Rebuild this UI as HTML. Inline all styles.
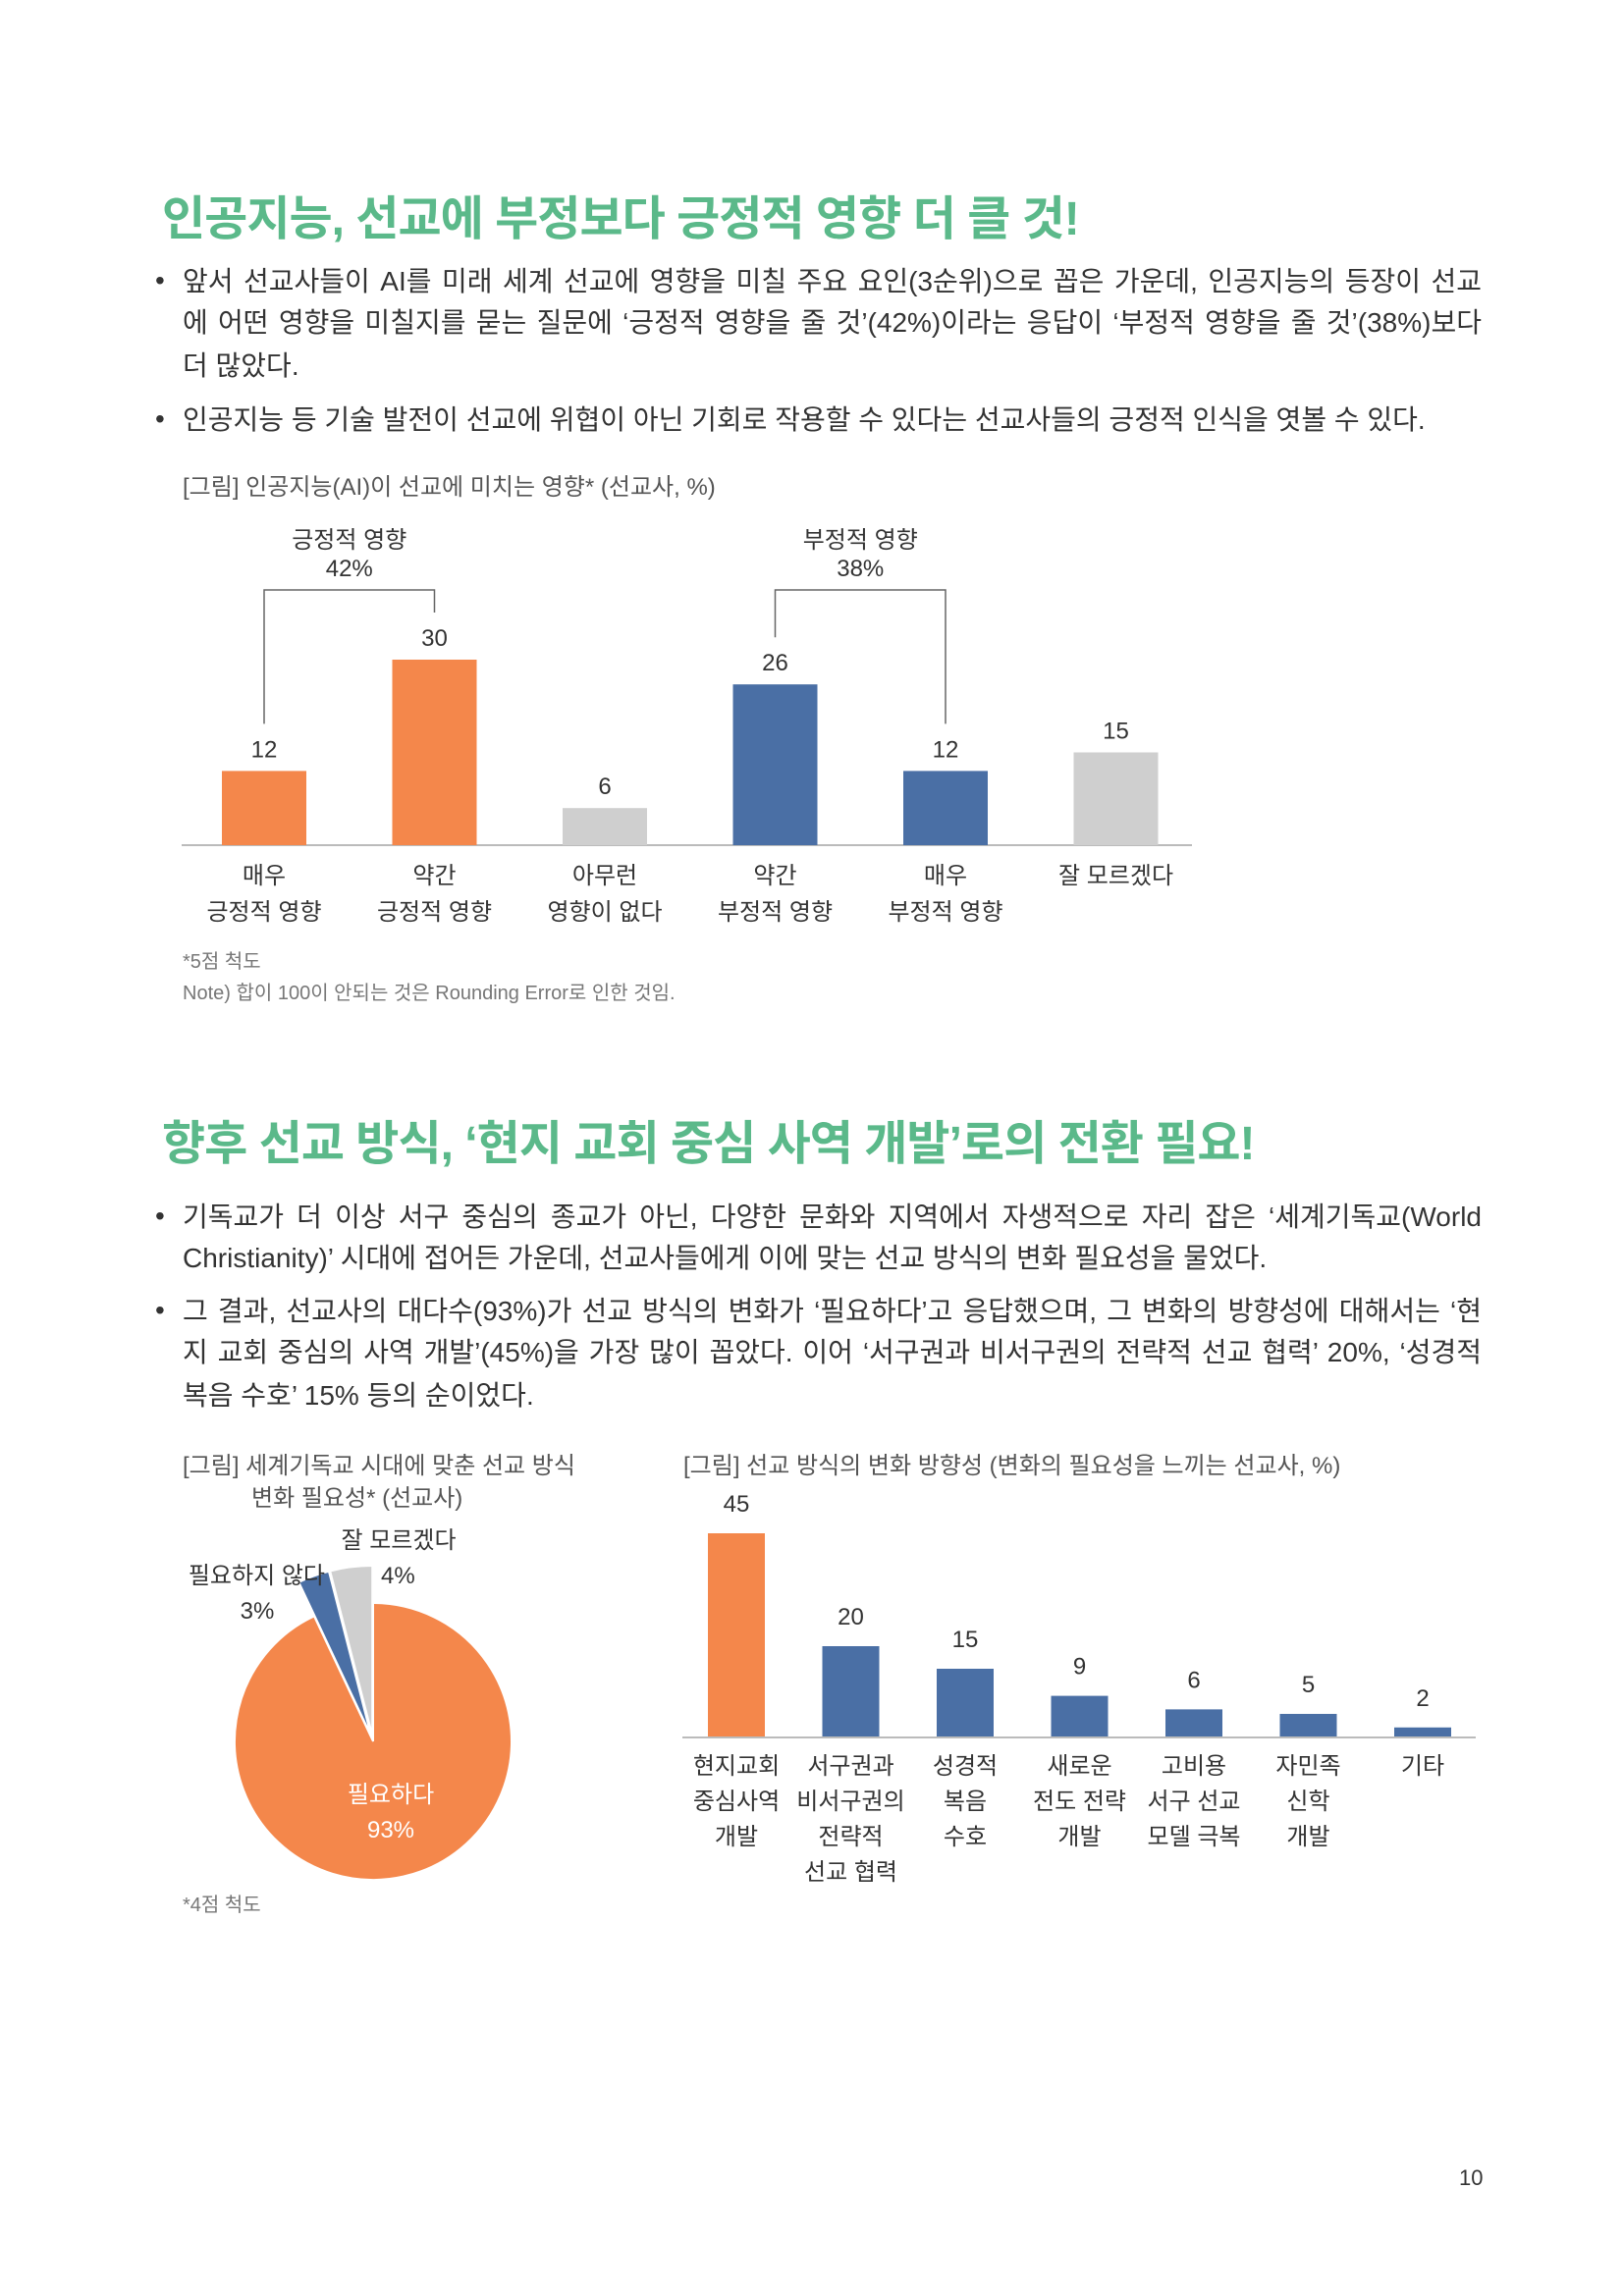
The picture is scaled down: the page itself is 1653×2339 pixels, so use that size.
<!DOCTYPE html>
<html><head><meta charset="utf-8">
<style>
body{margin:0;background:#fff;}
#page{position:relative;width:1653px;height:2339px;overflow:hidden;font-family:"Liberation Sans","Noto Sans CJK KR",sans-serif;color:#333;}
.t{position:absolute;white-space:nowrap;}
.title{font-size:48px;font-weight:bold;color:#5bb98a;left:165px;letter-spacing:-1px;}
.b{font-size:28px;left:186px;width:1323px;text-align:justify;text-align-last:justify;line-height:34px;}
.b.last{text-align-last:left;}
.dot{font-size:28px;left:158px;}
.cap{font-size:24px;color:#555;}
.fn{font-size:20px;color:#777;}
svg{position:absolute;left:0;top:0;}
</style></head><body>
<div id="page">
<div class="t title" style="top:183px">인공지능, 선교에 부정보다 긍정적 영향 더 클 것!</div>
<div class="t dot" style="top:270px">•</div>
<div class="t b" style="top:270px">앞서 선교사들이 AI를 미래 세계 선교에 영향을 미칠 주요 요인(3순위)으로 꼽은 가운데, 인공지능의 등장이 선교</div>
<div class="t b" style="top:312px">에 어떤 영향을 미칠지를 묻는 질문에 ‘긍정적 영향을 줄 것’(42%)이라는 응답이 ‘부정적 영향을 줄 것’(38%)보다</div>
<div class="t b last" style="top:356px">더 많았다.</div>
<div class="t dot" style="top:411px">•</div>
<div class="t b last" style="top:411px">인공지능 등 기술 발전이 선교에 위협이 아닌 기회로 작용할 수 있다는 선교사들의 긍정적 인식을 엿볼 수 있다.</div>
<div class="t cap" style="left:186px;top:476px">[그림] 인공지능(AI)이 선교에 미치는 영향* (선교사, %)</div>
<div class="t fn" style="left:186px;top:963px">*5점 척도</div>
<div class="t fn" style="left:186px;top:995px">Note) 합이 100이 안되는 것은 Rounding Error로 인한 것임.</div>

<div class="t title" style="top:1125px">향후 선교 방식, ‘현지 교회 중심 사역 개발’로의 전환 필요!</div>
<div class="t dot" style="top:1223px">•</div>
<div class="t b" style="top:1223px">기독교가 더 이상 서구 중심의 종교가 아닌, 다양한 문화와 지역에서 자생적으로 자리 잡은 ‘세계기독교(World</div>
<div class="t b last" style="top:1265px">Christianity)’ 시대에 접어든 가운데, 선교사들에게 이에 맞는 선교 방식의 변화 필요성을 물었다.</div>
<div class="t dot" style="top:1319px">•</div>
<div class="t b" style="top:1319px">그 결과, 선교사의 대다수(93%)가 선교 방식의 변화가 ‘필요하다’고 응답했으며, 그 변화의 방향성에 대해서는 ‘현</div>
<div class="t b" style="top:1361px">지 교회 중심의 사역 개발’(45%)을 가장 많이 꼽았다. 이어 ‘서구권과 비서구권의 전략적 선교 협력’ 20%, ‘성경적</div>
<div class="t b last" style="top:1405px">복음 수호’ 15% 등의 순이었다.</div>
<div class="t cap" style="left:186px;top:1473px">[그림] 세계기독교 시대에 맞춘 선교 방식</div>
<div class="t cap" style="left:256px;top:1506px">변화 필요성* (선교사)</div>
<div class="t cap" style="left:696px;top:1473px">[그림] 선교 방식의 변화 방향성 (변화의 필요성을 느끼는 선교사, %)</div>
<div class="t fn" style="left:186px;top:1924px">*4점 척도</div>
<div class="t" style="left:1486px;top:2206px;font-size:22px">10</div>

<svg id="svg" width="1653" height="2339"></svg>
</div>
<script>
// Chart 1 data
const c1Cats = [["매우","긍정적 영향"],["약간","긍정적 영향"],["아무런","영향이 없다"],["약간","부정적 영향"],["매우","부정적 영향"],["잘 모르겠다"]];
const c1Vals = [12,30,6,26,12,15];
const c1Colors = ["#f4874b","#f4874b","#cfcfcf","#4a6fa5","#4a6fa5","#cfcfcf"];
// Pie data
const pieLabels = ["필요하다","필요하지 않다","잘 모르겠다"];
const pieVals = [93,3,4];
const pieColors = ["#f4874b","#4a6fa5","#cfcfcf"];
// Chart 2 data
const c2Cats = [["현지교회","중심사역","개발"],["서구권과","비서구권의","전략적","선교 협력"],["성경적","복음","수호"],["새로운","전도 전략","개발"],["고비용","서구 선교","모델 극복"],["자민족","신학","개발"],["기타"]];
const c2Vals = [45,20,15,9,6,5,2];

const NS="http://www.w3.org/2000/svg";
const svg=document.getElementById('svg');
function mk(tag,attrs,parent){const e=document.createElementNS(NS,tag);for(const k in attrs)e.setAttribute(k,attrs[k]);(parent||svg).appendChild(e);return e;}
function txt(x,y,s,size,fill,anchor){const e=mk('text',{x:x,y:y,'font-size':size,fill:fill||'#333','text-anchor':anchor||'middle','font-family':'"Liberation Sans","Noto Sans CJK KR",sans-serif'});e.textContent=s;return e;}

// chart1 axes
const c1Base=861, c1Scale=6.3, c1X0=269, c1Step=173.5, c1W=86;
const y1=v=>c1Base-v*c1Scale;
const x1=i=>c1X0+i*c1Step;
const ax1=mk('line',{x1:185,x2:1214,y1:c1Base,y2:c1Base,stroke:'#bbb','stroke-width':2});


c1Vals.forEach((v,i)=>{
  const r=mk('rect',{x:x1(i)-c1W/2,y:y1(v),width:c1W,height:v*c1Scale,fill:c1Colors[i]});
  
  
  const l=txt(x1(i),y1(v)-14,String(v),24);
  
  
  c1Cats[i].forEach((s,j)=>{
    const c=txt(x1(i),900+j*37,s,24);
    
    
  });
});
// brackets
function bracket(i1,i2,yTop,label,pct,name){
  const xa=x1(i1),xb=x1(i2);
  const p=mk('path',{d:`M${xa},${y1(c1Vals[i1])-48} V${yTop} H${xb} V${y1(c1Vals[i2])-48}`,fill:'none',stroke:'#666','stroke-width':1.5});
  
  
  const cx=(xa+xb)/2;
  const a=txt(cx,558,label,24);
  
  
  const b=txt(cx,587,pct,24);
  
  
}
bracket(0,1,601,"긍정적 영향",(c1Vals[0]+c1Vals[1])+"%","positive-bracket");
bracket(3,4,601,"부정적 영향",(c1Vals[3]+c1Vals[4])+"%","negative-bracket");

// pie
const pcx=380,pcy=1774,pr=141;
let acc=0;
const total=pieVals.reduce((a,b)=>a+b,0);
pieVals.forEach((v,i)=>{
  const a0=acc/total*2*Math.PI, a1=(acc+v)/total*2*Math.PI; acc+=v;
  const mid=(a0+a1)/2;
  const off=i===0?0:6, rr=i===0?pr:pr+32;
  const cx=pcx+off*Math.sin(mid), cy=pcy-off*Math.cos(mid);
  const p0=[cx+rr*Math.sin(a0),cy-rr*Math.cos(a0)], p1=[cx+rr*Math.sin(a1),cy-rr*Math.cos(a1)];
  const large=(a1-a0)>Math.PI?1:0;
  const s=mk('path',{d:`M${cx},${cy} L${p0[0]},${p0[1]} A${rr},${rr} 0 ${large} 1 ${p1[0]},${p1[1]} Z`,fill:pieColors[i],stroke:'#fff','stroke-width':2});
  
  
});
let pl;
pl=txt(398,1836,pieLabels[0],24,'#fff');


pl=txt(398,1872,pieVals[0]+"%",24,'#fff');


pl=txt(331,1613,pieLabels[1],24,'#333','end');


pl=txt(262,1649,pieVals[1]+"%",24);


pl=txt(406,1577,pieLabels[2],24);


pl=txt(388,1613,pieVals[2]+"%",24,'#333','start');



// chart2
const c2Base=1769, c2Scale=4.6, c2X0=750, c2Step=116.5, c2W=58;
const y2=v=>c2Base-v*c2Scale;
const x2=i=>c2X0+i*c2Step;
const ax2=mk('line',{x1:695,x2:1503,y1:c2Base+1,y2:c2Base+1,stroke:'#bbb','stroke-width':2});


c2Vals.forEach((v,i)=>{
  const r=mk('rect',{x:x2(i)-c2W/2,y:y2(v),width:c2W,height:v*c2Scale,fill:i===0?'#f4874b':'#4a6fa5'});
  
  
  const l=txt(x2(i),y2(v)-22,String(v),24);
  
  
  c2Cats[i].forEach((s,j)=>{
    const c=txt(x2(i),1807+j*36,s,24);
    
    
  });
});
</script>
</body></html>
